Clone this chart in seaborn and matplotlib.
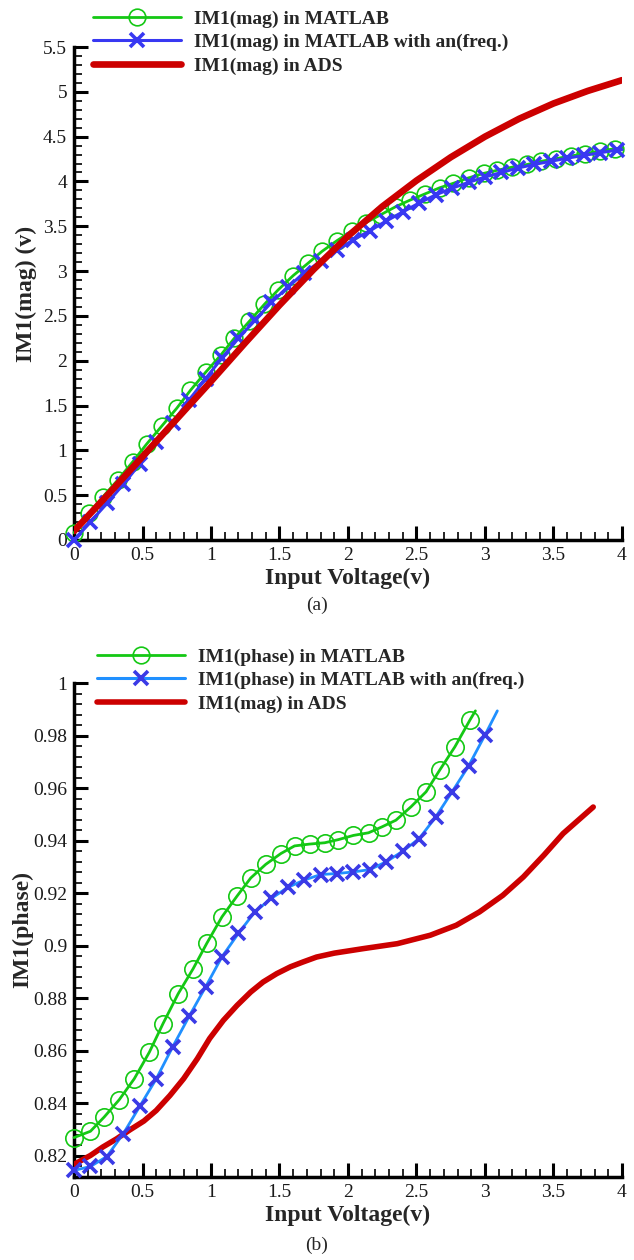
import matplotlib
matplotlib.use("Agg")
import matplotlib.pyplot as plt
from matplotlib.lines import Line2D
from matplotlib.ticker import MultipleLocator, FuncFormatter
import seaborn as sns
import pandas as pd

# ---------------- (a) fundamental magnitude ----------------
mag_matlab_x = [0, 0.11, 0.21, 0.32, 0.43, 0.53, 0.64, 0.75, 0.85, 0.96, 1.07, 1.17,
                1.28, 1.39, 1.49, 1.60, 1.71, 1.81, 1.92, 2.03, 2.13, 2.24, 2.35, 2.45,
                2.56, 2.67, 2.77, 2.88, 2.99, 3.09, 3.20, 3.31, 3.41, 3.52, 3.63, 3.73,
                3.84, 3.95, 4.0]
mag_matlab_y = [0.08, 0.30, 0.48, 0.67, 0.875, 1.07, 1.27, 1.47, 1.67, 1.87, 2.06, 2.25,
                2.44, 2.63, 2.79, 2.95, 3.09, 3.22, 3.34, 3.45, 3.54, 3.63, 3.72, 3.79,
                3.86, 3.93, 3.98, 4.04, 4.09, 4.125, 4.16, 4.19, 4.225, 4.255, 4.285, 4.31,
                4.34, 4.365, 4.375]

mag_freq_x = [0, 0.12, 0.24, 0.36, 0.48, 0.60, 0.72, 0.84, 0.96, 1.08, 1.20, 1.32,
              1.44, 1.56, 1.68, 1.80, 1.92, 2.04, 2.16, 2.28, 2.40, 2.52, 2.64, 2.76,
              2.88, 3.00, 3.12, 3.24, 3.36, 3.48, 3.60, 3.72, 3.84, 3.96, 4.0]
mag_freq_y = [0.0, 0.20, 0.41, 0.62, 0.85, 1.09, 1.31, 1.56, 1.80, 2.03, 2.25, 2.45,
              2.65, 2.82, 2.98, 3.11, 3.23, 3.35, 3.45, 3.56, 3.66, 3.76, 3.85, 3.925,
              3.99, 4.05, 4.10, 4.15, 4.19, 4.225, 4.26, 4.29, 4.32, 4.35, 4.355]

mag_ads_x = [0, 0.25, 0.5, 0.75, 1.0, 1.25, 1.5, 1.75, 2.0, 2.25, 2.5, 2.75, 3.0,
             3.25, 3.5, 3.75, 4.0]
mag_ads_y = [0.10, 0.51, 0.93, 1.35, 1.77, 2.20, 2.62, 3.02, 3.39, 3.72, 4.01, 4.27,
             4.50, 4.70, 4.87, 5.01, 5.13]

# ---------------- (b) fundamental phase ----------------
ph_matlab_x = [0, 0.12, 0.22, 0.33, 0.44, 0.55, 0.65, 0.76, 0.87, 0.97, 1.08, 1.19,
               1.29, 1.40, 1.51, 1.61, 1.72, 1.83, 1.93, 2.04, 2.15, 2.25, 2.35, 2.46,
               2.57, 2.67, 2.78, 2.89, 2.93]
ph_matlab_y = [0.827, 0.8294, 0.8348, 0.8414, 0.8494, 0.8595, 0.8704, 0.8817, 0.8913,
               0.901, 0.911, 0.9189, 0.9258, 0.931, 0.9351, 0.938, 0.9387, 0.9392,
               0.9404, 0.942, 0.943, 0.9453, 0.9478, 0.9529, 0.9586, 0.9669, 0.9757,
               0.9859, 0.9894]

ph_freq_x = [0, 0.12, 0.24, 0.36, 0.48, 0.60, 0.72, 0.84, 0.96, 1.08, 1.20, 1.32,
             1.44, 1.56, 1.68, 1.80, 1.92, 2.04, 2.16, 2.28, 2.40, 2.52, 2.64, 2.76,
             2.88, 3.00, 3.09]
ph_freq_y = [0.8145, 0.816, 0.8198, 0.8285, 0.8389, 0.8493, 0.8615, 0.8731, 0.8843,
             0.8958, 0.9047, 0.9129, 0.918, 0.9222, 0.925, 0.9271, 0.9275, 0.9281,
             0.929, 0.932, 0.936, 0.9408, 0.949, 0.9586, 0.9684, 0.9802, 0.9894]

ph_ads_x = [0, 0.12, 0.21, 0.31, 0.41, 0.51, 0.60, 0.70, 0.80, 0.90, 0.99, 1.09, 1.19,
            1.29, 1.38, 1.48, 1.58, 1.67, 1.77, 1.90, 2.11, 2.36, 2.60, 2.79, 2.96,
            3.13, 3.28, 3.43, 3.57, 3.79]
ph_ads_y = [0.8168, 0.8202, 0.8234, 0.8265, 0.830, 0.8333, 0.8373, 0.843, 0.8494,
            0.857, 0.8647, 0.8716, 0.8773, 0.8824, 0.8862, 0.8894, 0.892, 0.8938,
            0.8957, 0.8972, 0.8989, 0.9008, 0.904, 0.9078, 0.9129, 0.9192, 0.9262,
            0.9345, 0.9427, 0.9528]

legend_a = ["IM1(mag) in MATLAB", "IM1(mag) in MATLAB with an(freq.)", "IM1(mag) in ADS"]
legend_b = ["IM1(phase) in MATLAB", "IM1(phase) in MATLAB with an(freq.)", "IM1(mag) in ADS"]

GREEN = "#14c814"
BLUE = "#3838f2"
BLUE_LINE = "#2090ff"
BLUE_MARK = "#3a3ae6"
RED = "#cc0000"

sns.set_theme(style="ticks")
plt.rcParams["font.family"] = ["Liberation Serif", "DejaVu Serif"]

W, H = 634, 1260
fig = plt.figure(figsize=(W / 100, H / 100), dpi=100)
ax1 = fig.add_axes([74 / W, (H - 540) / H, 548 / W, 493 / H])
ax2 = fig.add_axes([74 / W, (H - 1177) / H, 548 / W, 494 / H])

fmt = FuncFormatter(lambda v, p: "%g" % round(v, 6))


def style_axes(ax, ymin, ymax, ymajor, yminor):
    ax.set_xlim(0, 4)
    ax.set_ylim(ymin, ymax)
    ax.xaxis.set_major_locator(MultipleLocator(0.5))
    ax.xaxis.set_minor_locator(MultipleLocator(0.1))
    ax.yaxis.set_major_locator(MultipleLocator(ymajor))
    ax.yaxis.set_minor_locator(MultipleLocator(yminor))
    ax.xaxis.set_major_formatter(fmt)
    ax.yaxis.set_major_formatter(fmt)
    for s in ("top", "right"):
        ax.spines[s].set_visible(False)
    for s in ("left", "bottom"):
        ax.spines[s].set_linewidth(2.5)
        ax.spines[s].set_color("black")
    ax.tick_params(which="major", direction="in", length=10, width=2.2,
                   labelsize=14, pad=5, color="black", labelcolor="#1a1a1a")
    ax.tick_params(which="minor", direction="in", length=6, width=1.2, color="black")
    ax.set_xlabel("Input Voltage(v)", fontsize=17, fontweight="bold", labelpad=3)
    ax.grid(False)
    ax.set_facecolor("white")


def df(x, y):
    return pd.DataFrame({"x": x, "y": y})


# ---- panel (a)
sns.lineplot(data=df(mag_matlab_x, mag_matlab_y), x="x", y="y", ax=ax1, color=GREEN,
             lw=2, marker="o", ms=12, mfc="none", mec=GREEN, mew=1.2,
             markevery=slice(0, -1), estimator=None, clip_on=False, zorder=3)
sns.lineplot(data=df(mag_freq_x, mag_freq_y), x="x", y="y", ax=ax1, color=BLUE,
             lw=2.2, marker="x", ms=10, mec=BLUE, mew=2.6,
             markevery=slice(0, -1), estimator=None, clip_on=False, zorder=4)
sns.lineplot(data=df(mag_ads_x, mag_ads_y), x="x", y="y", ax=ax1, color=RED,
             lw=4.8, estimator=None, zorder=5)
style_axes(ax1, 0, 5.5, 0.5, 0.1)
ax1.set_ylabel("IM1(mag) (v)", fontsize=17, fontweight="bold", labelpad=4)

# ---- panel (b)
sns.lineplot(data=df(ph_ads_x, ph_ads_y), x="x", y="y", ax=ax2, color=RED,
             lw=4.0, estimator=None, zorder=3)
sns.lineplot(data=df(ph_matlab_x, ph_matlab_y), x="x", y="y", ax=ax2, color=GREEN,
             lw=2, marker="o", ms=12.5, mfc="none", mec=GREEN, mew=1.2,
             markevery=slice(0, -1), estimator=None, clip_on=False, zorder=4)
sns.lineplot(data=df(ph_freq_x, ph_freq_y), x="x", y="y", ax=ax2, color=BLUE_LINE,
             lw=2, marker="x", ms=10, mec=BLUE_MARK, mew=2.6,
             markevery=slice(0, -1), estimator=None, clip_on=False, zorder=5)
style_axes(ax2, 0.812, 1.0, 0.02, 0.004)
ax2.set_ylabel("IM1(phase)", fontsize=17, fontweight="bold", labelpad=0)


def handles(blue_line, blue_mark, red_lw):
    return [
        Line2D([], [], color=GREEN, lw=2, marker="o", ms=12, mfc="none", mec=GREEN, mew=1.2),
        Line2D([], [], color=blue_line, lw=2.2, marker="x", ms=10, mec=blue_mark, mew=2.6),
        Line2D([], [], color=RED, lw=red_lw),
    ]


leg_kw = dict(frameon=False, handlelength=4.5, handletextpad=0.7,
              labelspacing=0.30, borderpad=0, borderaxespad=0, numpoints=1,
              loc="upper left", bbox_transform=fig.transFigure,
              prop={"weight": "bold", "size": 14})
ax1.legend(handles(BLUE, BLUE, 4.8), legend_a, bbox_to_anchor=(93 / W, 1 - 10 / H), **leg_kw)
ax2.legend(handles(BLUE_LINE, BLUE_MARK, 4.0), legend_b, bbox_to_anchor=(97 / W, 1 - 648 / H), **leg_kw)

fig.text(317 / W, 1 - 605 / H, "(a)", ha="center", va="center", fontsize=14)
fig.text(317 / W, 1 - 1245 / H, "(b)", ha="center", va="center", fontsize=14)

fig.savefig("out.png", dpi=100, facecolor="white")
